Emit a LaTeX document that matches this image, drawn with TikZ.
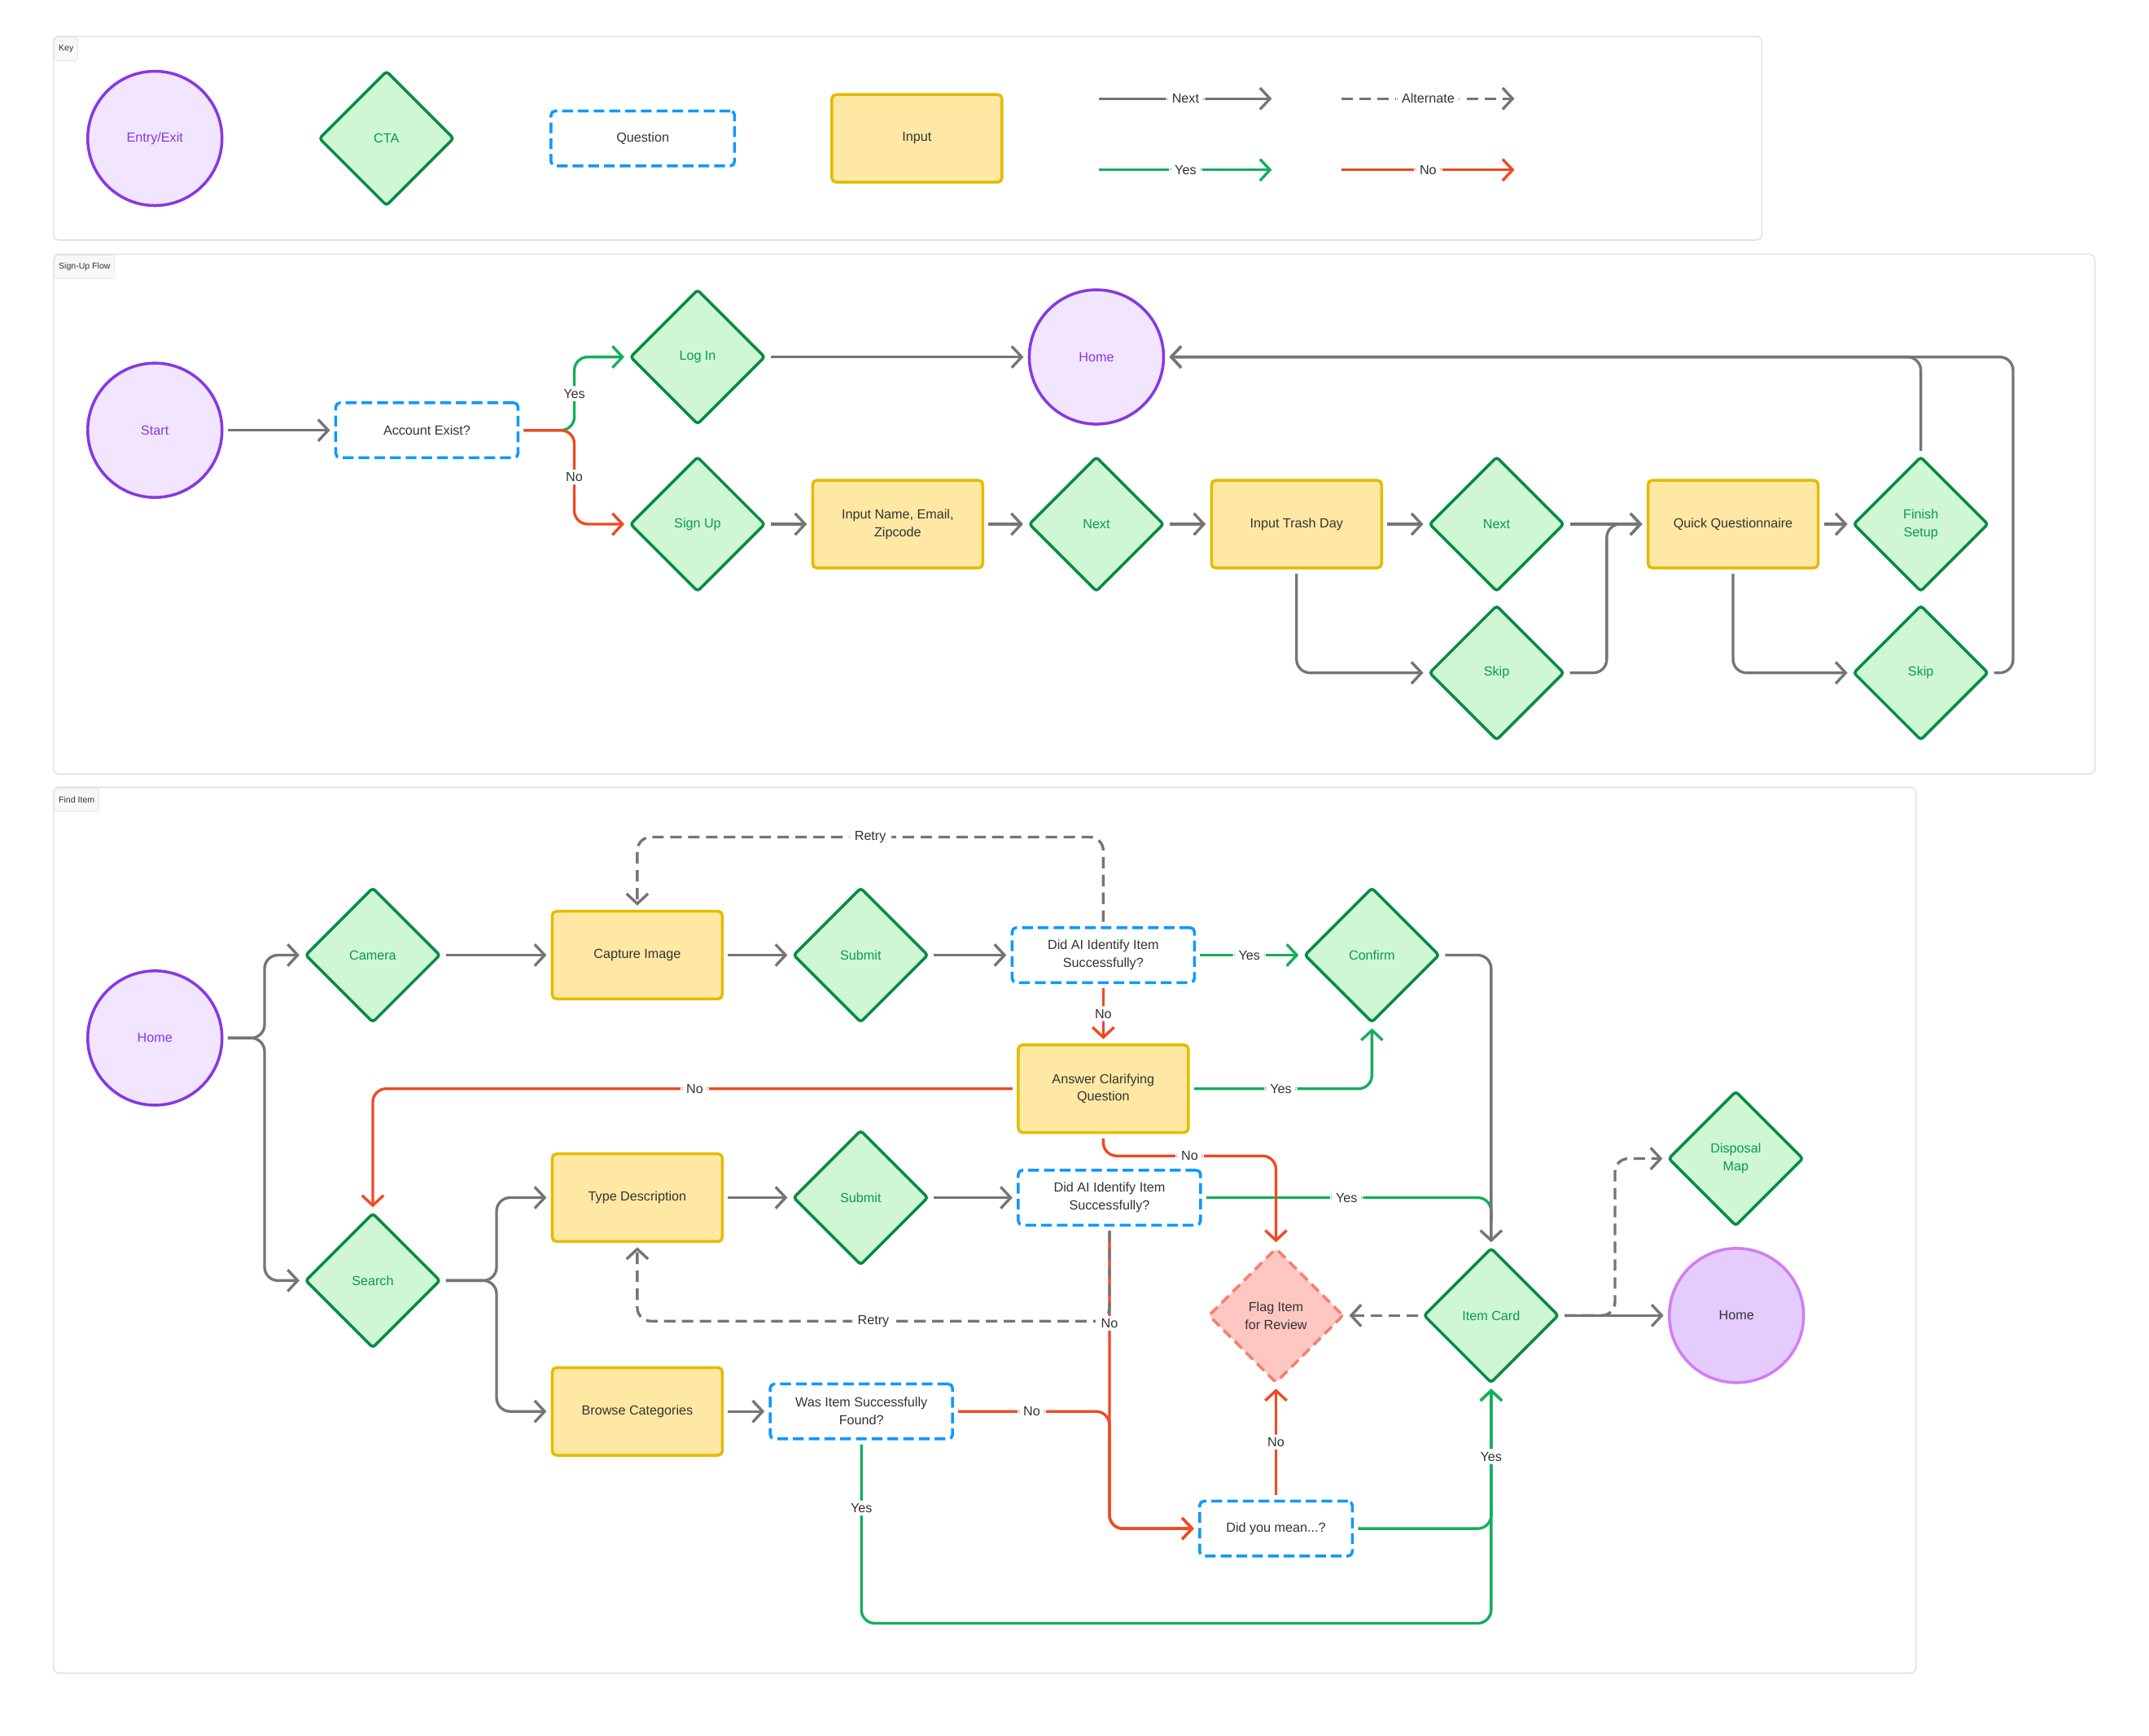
\documentclass[tikz,border=0pt]{standalone}
\usepackage{fontspec}
\setmainfont{Liberation Sans}
\usetikzlibrary{shapes.geometric,arrows.meta,calc}
\definecolor{grayL}{HTML}{757575}
\definecolor{greenL}{HTML}{14AE5C}
\definecolor{redL}{HTML}{F24822}
\definecolor{blueS}{HTML}{0D99FF}
\definecolor{purpleS}{HTML}{8638E5}
\definecolor{purpleF}{HTML}{F1E5FF}
\definecolor{greenS}{HTML}{078B45}
\definecolor{greenF}{HTML}{CFF7D3}
\definecolor{greenT}{HTML}{0B9A4F}
\definecolor{yellowS}{HTML}{E3BC00}
\definecolor{yellowF}{HTML}{FFE8A3}
\definecolor{flagS}{HTML}{F4806E}
\definecolor{flagF}{HTML}{FFC7C2}
\definecolor{violetS}{HTML}{D27CF7}
\definecolor{violetF}{HTML}{E4CCFF}
\definecolor{darkT}{HTML}{333333}
\definecolor{panelS}{HTML}{E3E3E3}
\definecolor{tagF}{HTML}{F8F8F8}
\newcommand\myfnode{\fontsize{9.2}{12.5}\selectfont}
\newcommand\myftag{\fontsize{6}{7}\selectfont}
\begin{document}
\begin{tikzpicture}[x=0.033674cm,y=-0.033674cm,
  entry/.style={circle, draw=purpleS, fill=purpleF, line width=2pt, minimum size=3.3cm, inner sep=0pt, text=purpleS, font=\myfnode, align=center},
  exitnode/.style={entry, draw=violetS, fill=violetF, text=darkT},
  cta/.style={diamond, draw=greenS, fill=greenF, line width=2pt, minimum width=3.32cm, minimum height=3.32cm, inner sep=0pt, text=greenT, rounded corners=2pt, align=center, font=\myfnode},
  flagnode/.style={cta, draw=flagS, fill=flagF, text=darkT, dash pattern=on 7pt off 4pt},
  question/.style={rectangle, draw=blueS, fill=white, dash pattern=on 7.5pt off 3.5pt, line width=2pt, minimum width=4.48cm, minimum height=1.35cm, rounded corners=3pt, align=center, text=darkT, font=\myfnode, inner sep=0pt},
  inputbox/.style={rectangle, draw=yellowS, fill=yellowF, line width=2pt, minimum width=4.18cm, minimum height=2.155cm, rounded corners=3pt, align=center, text=darkT, font=\myfnode, inner sep=0pt},
  nextline/.style={draw=grayL, line width=1.9pt, -{Straight Barb[length=7pt,width=15pt]}, rounded corners=0.33cm, shorten <=3pt, shorten >=3pt},
  altline/.style={nextline, dash pattern=on 8pt off 4.5pt},
  yesline/.style={nextline, draw=greenL},
  noline/.style={nextline, draw=redL},
  lbl/.style={fill=white, inner xsep=4pt, inner ysep=2pt, text=darkT, font=\myfnode},
  panel/.style={draw=panelS, line width=0.9pt, rounded corners=4pt, fill=white},
  tag/.style={draw=panelS, fill=tagF, line width=0.5pt, rounded corners=2pt, font=\myftag, text=darkT, inner xsep=3pt, inner ysep=0pt, minimum height=0.57cm, anchor=north west}
]
\useasboundingbox (0,0) rectangle (1568,1266.3);
\fill[white] (0,0) rectangle (1568,1266.3);

% ---------------- panels ----------------
\draw[panel] (39,26.5) rectangle (1285.5,175.2);
\draw[panel] (39,185.5) rectangle (1528.5,565);
\draw[panel] (39,574.5) rectangle (1398,1221);
\node[tag] (tagkey) at (39.5,27) {Key};
\node[tag] (tagsign) at (39.5,186) {Sign-Up Flow};
\node[tag] (tagfind) at (39.5,575) {Find Item};

% ---------------- key ----------------
\node[entry] (kentry) at (113,101) {Entry/Exit};
\node[cta] (kcta) at (282,101) {CTA};
\node[question, minimum width=4.51cm] (kq) at (469,101) {Question};
\node[inputbox] (kin) at (669,101) {Input};
\coordinate (kn1) at (802,72);
\coordinate (kn2) at (928,72);
\coordinate (ka1) at (979,72);
\coordinate (ka2) at (1105,72);
\coordinate (ky1) at (802,124);
\coordinate (ky2) at (928,124);
\coordinate (ko1) at (979,124);
\coordinate (ko2) at (1105,124);
\draw[nextline, shorten <=0pt, shorten >=0pt] (kn1) -- node[lbl]{Next} (kn2);
\draw[altline, shorten <=0pt, shorten >=0pt] (ka1) -- node[lbl]{Alternate} (ka2);
\draw[yesline, shorten <=0pt, shorten >=0pt] (ky1) -- node[lbl]{Yes} (ky2);
\draw[noline, shorten <=0pt, shorten >=0pt] (ko1) -- node[lbl]{No} (ko2);

% ---------------- sign-up flow ----------------
\node[entry] (start) at (113,314) {Start};
\node[question] (acc) at (311.5,314) {Account Exist?};
\node[cta] (login) at (509,260.5) {Log In};
\node[cta] (signup) at (509,382.5) {Sign Up};
\node[entry] (home1) at (800,260.5) {Home};
\node[inputbox] (iname) at (655,382.5) {Input Name, Email,\\Zipcode};
\node[cta] (next1) at (800,382.5) {Next};
\node[inputbox] (itd) at (946,382.5) {Input Trash Day};
\node[cta] (next2) at (1092,382.5) {Next};
\node[cta] (skip1) at (1092,491) {Skip};
\node[inputbox] (qq) at (1264.5,382.5) {Quick Questionnaire};
\node[cta] (finish) at (1401.5,382.5) {Finish\\Setup};
\node[cta] (skip2) at (1401.5,491) {Skip};

\draw[nextline] (start.east) -- (acc.west);
\draw[yesline] (acc.east) -- ++(40,0) |- node[lbl,pos=0.25]{Yes} (login.west);
\draw[noline] (acc.east) -- ++(40,0) |- node[lbl,pos=0.25]{No} (signup.west);
\draw[nextline] (login.east) -- (home1.west);
\draw[nextline] (signup.east) -- (iname.west);
\draw[nextline] (iname.east) -- (next1.west);
\draw[nextline] (next1.east) -- (itd.west);
\draw[nextline] (itd.east) -- (next2.west);
\draw[nextline] (next2.east) -- (qq.west);
\draw[nextline] (itd.south) |- (skip1.west);
\draw[nextline] (skip1.east) -- ++(30,0) |- (qq.west);
\draw[nextline] (qq.east) -- (finish.west);
\draw[nextline] (qq.south) |- (skip2.west);
\draw[nextline] (finish.north) |- (home1.east);
\draw[nextline] (skip2.east) -- ++(17,0) |- (home1.east);

% ---------------- find item ----------------
\node[entry] (homeF) at (113,757.5) {Home};
\node[cta] (camera) at (272,697) {Camera};
\node[inputbox] (capture) at (465,697) {Capture Image};
\node[cta] (submit1) at (628,697) {Submit};
\node[question] (ai1) at (805,697) {Did AI Identify Item\\Successfully?};
\node[cta] (confirm) at (1001,697) {Confirm};
\node[inputbox] (answer) at (805,794.5) {Answer Clarifying\\Question};
\node[cta] (search) at (272,934.5) {Search};
\node[inputbox] (typed) at (465,874) {Type Description};
\node[cta] (submit2) at (628,874) {Submit};
\node[question] (ai2) at (809.5,874) {Did AI Identify Item\\Successfully?};
\node[flagnode] (flag) at (931,960) {Flag Item\\for Review};
\node[cta] (card) at (1088,960) {Item Card};
\node[cta] (dmap) at (1266.5,845.5) {Disposal\\Map};
\node[exitnode] (homeEnd) at (1267,960) {Home};
\node[inputbox] (browse) at (465,1030) {Browse Categories};
\node[question] (found) at (628.5,1030) {Was Item Successfully\\Found?};
\node[question, minimum width=3.75cm] (dym) at (931,1115.5) {Did you mean...?};

\draw[nextline] (homeF.east) -- ++(30,0) |- (camera.west);
\draw[nextline] (homeF.east) -- ++(30,0) |- (search.west);
\draw[nextline] (camera.east) -- (capture.west);
\draw[nextline] (capture.east) -- (submit1.west);
\draw[nextline] (submit1.east) -- (ai1.west);
\draw[yesline] (ai1.east) -- node[lbl]{Yes} (confirm.west);
\draw[altline] (ai1.north) -- ++(0,-65) -| node[lbl,pos=0.25]{Retry} (capture.north);
\draw[noline] (ai1.south) -- node[lbl]{No} (answer.north);
\draw[yesline] (answer.east) -| node[lbl,pos=0.25]{Yes} (confirm.south);
\draw[noline] (answer.west) -| node[lbl,pos=0.25]{No} (search.north);
\draw[yesline, -] (ai2.east) -| node[lbl,pos=0.25]{Yes} ([yshift=0.5cm]card.north);
\draw[nextline] (confirm.east) -| (card.north);
\draw[noline] (answer.south) -- ++(0,16) -| node[lbl,pos=0.25]{No} (flag.north);
\draw[nextline] (search.east) -- ++(40,0) |- (typed.west);
\draw[nextline] (search.east) -- ++(40,0) |- (browse.west);
\draw[nextline] (typed.east) -- (submit2.west);
\draw[nextline] (submit2.east) -- (ai2.west);
\draw[noline] (ai2.south) |- (dym.west);
\draw[noline] (found.east) -- node[lbl]{No} (found.east -| ai2.south) |- (dym.west);
\draw[altline] (ai2.south) -- ++(0,69) -| node[lbl,pos=0.25]{Retry} (typed.south);
\path (ai2.south) |- node[lbl,pos=0.16]{No} (dym.west);
\draw[nextline] (browse.east) -- (found.west);
\draw[yesline] (found.south) -- node[lbl,pos=0.37]{Yes} ++(0,133.5) -| (card.south);
\draw[yesline] (dym.east) -| node[lbl,pos=0.75]{Yes} (card.south);
\draw[noline] (dym.north) -- node[lbl]{No} (flag.south);
\draw[altline] (card.west) -- (flag.east);
\draw[nextline] (card.east) -- (homeEnd.west);
\draw[altline] (card.east) -- ++(40,0) |- (dmap.west);
\end{tikzpicture}
\end{document}
